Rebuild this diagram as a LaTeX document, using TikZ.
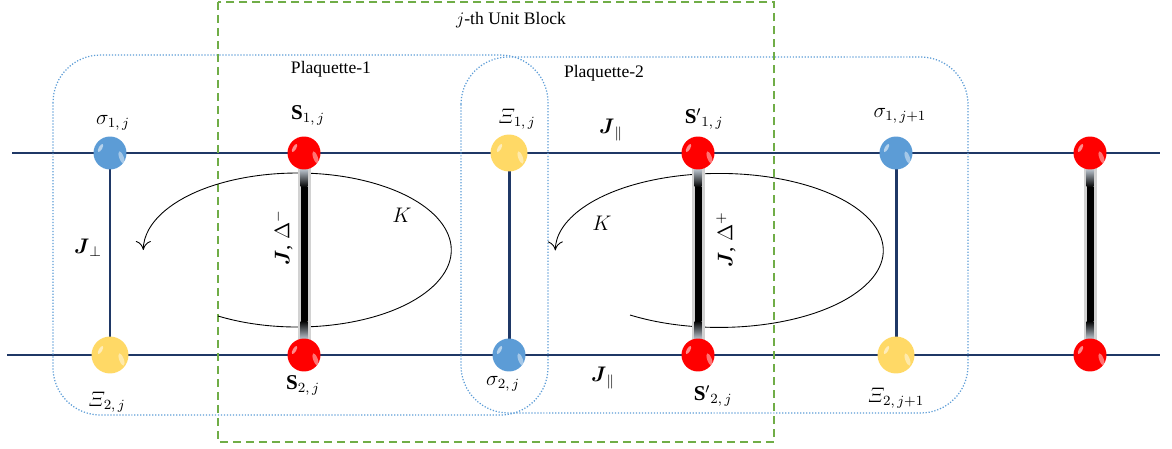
\documentclass[tikz,border=0pt]{standalone}
\usepackage{fontspec}
\setmainfont{Liberation Serif}
\usepackage{amsmath}
\usepackage{amssymb}
\usetikzlibrary{arrows.meta,calc,positioning}
\definecolor{legnavy}{rgb}{0.12,0.22,0.40}
\definecolor{spinblue}{rgb}{0.36,0.61,0.84}
\definecolor{spinyellow}{rgb}{1.00,0.85,0.40}
\definecolor{spinred}{rgb}{1.00,0.00,0.00}
\definecolor{dashgreen}{rgb}{0.44,0.68,0.28}
\definecolor{dotblue}{rgb}{0.36,0.61,0.84}
\definecolor{barend}{rgb}{0.78,0.82,0.86}
\tikzset{
  spin/.style={
    circle,
    inner sep=0pt,
    minimum size=6.6mm,
    fill=#1,
    path picture={
      \fill[white,opacity=.45] ([xshift=2.3mm,yshift=-.9mm]path picture bounding box.center)
        ellipse[x radius=.45mm,y radius=1.3mm,rotate=20];
      \fill[white,opacity=.55] ([xshift=-1.9mm,yshift=1mm]path picture bounding box.center)
        ellipse[x radius=.35mm,y radius=.9mm,rotate=-30];
    }
  },
  leg/.style={
    line width=1.7pt,
    legnavy
  },
  plaq/.style={
    dotblue,
    densely dotted,
    line width=.7pt,
    rounded corners=.95cm
  },
  bloque/.style={
    dashgreen,
    line width=1.1pt,
    dash pattern=on 1.6mm off 1mm
  },
  giro/.style={
    -{To[length=1.8mm,width=3mm]},
    line width=.5pt,
    black
  },
  etiq/.style={
    font=\large,
    inner sep=1pt
  }
}

\begin{document}
\begin{tikzpicture}[x=0.02cm,y=-0.02cm]
\useasboundingbox (0,0) rectangle (1172,449);
% sites
\coordinate (sig1) at (110,153);
\coordinate (xi2)  at (110,355);
\coordinate (S1)   at (304,153);
\coordinate (S2)   at (304,355);
\coordinate (xi1)  at (509,153);
\coordinate (sig2) at (509,355);
\coordinate (Sp1)  at (698,153);
\coordinate (Sp2)  at (698,355);
\coordinate (sig3) at (896,153);
\coordinate (xi3)  at (896,355);
\coordinate (R1)   at (1090,153);
\coordinate (R2)   at (1090,355);
\coordinate (lt0)  at (12,153);
\coordinate (lt9)  at (1160,153);
\coordinate (lb0)  at (7,355);
\coordinate (lb9)  at (1160,355);
% legs and rungs
\draw[leg] (lt0) -- (lt9);
\draw[leg] (lb0) -- (lb9);
\draw[leg] (sig1) -- (xi2);
\draw[leg] (xi1) -- (sig2);
\draw[leg] (sig3) -- (xi3);
% plaquettes and unit block
\draw[plaq] (53,55) rectangle (548,415);
\draw[plaq] (461,57) rectangle (968,413);
\draw[bloque] (218,2) rectangle (774,442);
% K loops
\coordinate (k1) at (218,316);
\coordinate (k2) at (630,315);
\draw[giro] (k1) arc[start angle=-121,end angle=180,x radius=3.08cm,y radius=1.54cm];
\draw[giro] (k2) arc[start angle=-123,end angle=180,x radius=3.28cm,y radius=1.54cm];
% dimer bonds
\foreach \t/\b in {S1/S2,Sp1/Sp2,R1/R2}{
  \fill[gray!35] ([xshift=-1.3mm]\t) rectangle ([xshift=1.3mm]\b);
  \shade[top color=barend,bottom color=black] ([xshift=-.7mm,yshift=-3mm]\t) rectangle ([xshift=.7mm,yshift=-6.8mm]\t);
  \fill[black] ([xshift=-.7mm,yshift=-6.8mm]\t) rectangle ([xshift=.7mm,yshift=6.8mm]\b);
  \shade[top color=black,bottom color=barend] ([xshift=-.7mm,yshift=6.8mm]\b) rectangle ([xshift=.7mm,yshift=3mm]\b);
}
% spheres
\node[spin=spinblue] (nsig1) at (sig1) {};
\node[spin=spinyellow,minimum size=7.4mm] (nxi2) at (xi2) {};
\node[spin=spinred] (nS1) at (S1) {};
\node[spin=spinred] (nS2) at (S2) {};
\node[spin=spinyellow,minimum size=7.4mm] (nxi1) at (xi1) {};
\node[spin=spinblue] (nsig2) at (sig2) {};
\node[spin=spinred] (nSp1) at (Sp1) {};
\node[spin=spinred] (nSp2) at (Sp2) {};
\node[spin=spinblue] (nsig3) at (sig3) {};
\node[spin=spinyellow,minimum size=7.4mm] (nxi3) at (xi3) {};
\node[spin=spinred] (nR1) at (R1) {};
\node[spin=spinred] (nR2) at (R2) {};
% labels
\node (tblock) at (511,20) {$j$-th Unit Block};
\node (tplaq1) at (331,69) {Plaquette-1};
\node (tplaq2) at (604,73) {Plaquette-2};
\node[etiq] (lsig1) at (113,123) {$\sigma_{1,\,j}$};
\node[etiq] (lS1) at (308,115) {$\mathbf{S}_{1,\,j}$};
\node[etiq] (lxi1) at (517,119) {$\varXi_{1,\,j}$};
\node[etiq] (lSp1) at (704,119) {${\mathbf{S}'}_{1,\,j}$};
\node[etiq] (lsig3) at (900,116) {$\sigma_{1,\,j+1}$};
\node[etiq] (lxi2) at (107,402) {$\varXi_{2,\,j}$};
\node[etiq] (lS2) at (303,385) {$\mathbf{S}_{2,\,j}$};
\node[etiq] (lsig2) at (503,384) {$\sigma_{2,\,j}$};
\node[etiq] (lSp2) at (713,396) {${\mathbf{S}'}_{2,\,j}$};
\node[etiq] (lxi3) at (896,398) {$\varXi_{2,\,j+1}$};
\node[etiq] (lJpa) at (611,130) {$\boldsymbol{J}_{\parallel}$};
\node[etiq] (lJpb) at (603,378) {$\boldsymbol{J}_{\parallel}$};
\node[etiq] (lJperp) at (88,248) {$\boldsymbol{J}_{\perp}$};
\node[etiq] (lK1) at (402,215) {$K$};
\node[etiq] (lK2) at (602,223) {$K$};
\node[etiq,rotate=90] (lJm) at (283,238) {$\boldsymbol{J}$, $\Delta^{-}$};
\node[etiq,rotate=90] (lJp) at (726,240) {$\boldsymbol{J}$, $\Delta^{+}$};
\end{tikzpicture}
\end{document}
